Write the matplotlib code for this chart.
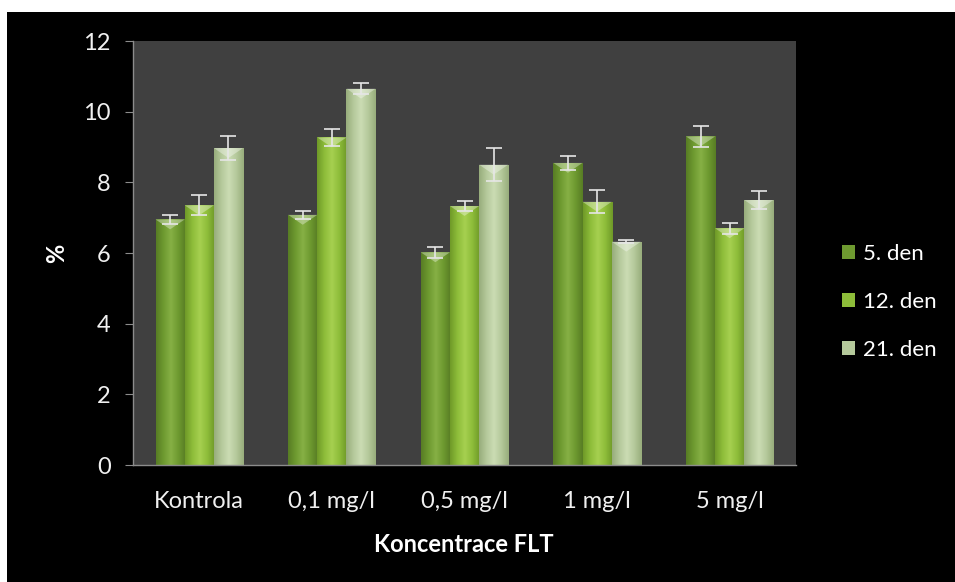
import matplotlib
matplotlib.use("Agg")
import matplotlib.pyplot as plt
import numpy as np
from matplotlib.colors import LinearSegmentedColormap
from matplotlib.patches import Rectangle, Polygon

categories = ["Kontrola", "0,1 mg/l", "0,5 mg/l", "1 mg/l", "5 mg/l"]
series_names = ["5. den", "12. den", "21. den"]
den5 = [6.95, 7.08, 6.02, 8.55, 9.30]
den5_err = [0.12, 0.12, 0.15, 0.20, 0.30]
den12 = [7.35, 9.27, 7.33, 7.45, 6.70]
den12_err = [0.28, 0.25, 0.15, 0.32, 0.15]
den21 = [8.97, 10.65, 8.50, 6.32, 7.50]
den21_err = [0.33, 0.15, 0.47, 0.05, 0.25]
y_ticks = [0, 2, 4, 6, 8, 10, 12]

values = [den5, den12, den21]
errors = [den5_err, den12_err, den21_err]
# (edge dark, base, center light)
palettes = [("#587d24", "#6e9a30", "#86b045"),
            ("#6f9a28", "#8ebd3a", "#a6d050"),
            ("#98ad7c", "#b5c99b", "#cbdcb4")]

plt.rcParams['font.family'] = ['Lato', 'DejaVu Sans']

fig = plt.figure(figsize=(9.55, 5.82), dpi=100, facecolor="white")
fig.patches.append(Rectangle((7 / 955, 0), 1 - 7 / 955, 1 - 12 / 582,
                             transform=fig.transFigure, facecolor="black",
                             edgecolor="none", zorder=-10))

ax = fig.add_axes([133 / 955, 1 - 465 / 582, 663 / 955, 424 / 582])
ax.set_zorder(1)
ax.set_facecolor("#404040")

x = np.arange(len(categories))
w = 0.22
offsets = [-w, 0, w]
handles = []
for i, (vals, errs, pal) in enumerate(zip(values, errors, palettes)):
    bars = ax.bar(x + offsets[i], vals, width=w, color=pal[1], zorder=2,
                  label=series_names[i], edgecolor="none")
    handles.append(bars)
    cmap = LinearSegmentedColormap.from_list("g", [pal[0], pal[1], pal[2], pal[1], pal[0]])
    grad = np.linspace(0, 1, 64).reshape(1, -1)
    for b in bars:
        bx, by = b.get_x(), b.get_y()
        bw, bh = b.get_width(), b.get_height()
        im = ax.imshow(grad, cmap=cmap, aspect="auto",
                       extent=(bx, bx + bw, by, by + bh), zorder=2.1,
                       interpolation="bilinear")
        im.set_clip_path(b)
        # top bevel highlight
        bev = 0.28
        tri = Polygon([(bx, by + bh), (bx + bw, by + bh),
                       (bx + bw * 0.5, by + bh - bev)],
                      closed=True, facecolor="white", alpha=0.35,
                      edgecolor="none", zorder=2.2)
        ax.add_patch(tri)
    ax.errorbar(x + offsets[i], vals, yerr=errs, fmt="none",
                ecolor="#e6e6e6", elinewidth=1.2, capsize=6, capthick=1.2,
                zorder=3)

ax.set_xlim(-0.5, len(categories) - 0.5)
ax.set_ylim(0, 12)
ax.set_yticks(y_ticks)
ax.set_yticklabels([str(t) for t in y_ticks])
ax.set_xticks(x)
ax.set_xticklabels(categories)

for s in ["top", "right"]:
    ax.spines[s].set_visible(False)
for s in ["left", "bottom"]:
    ax.spines[s].set_color("#8c8c8c")
    ax.spines[s].set_linewidth(1.0)

ax.tick_params(axis="y", colors="#8c8c8c", labelcolor="#f0f0f0",
               labelsize=17, length=6, direction="out", pad=10)
ax.tick_params(axis="x", length=0, labelcolor="#f0f0f0", labelsize=17, pad=19)

fig.text(57 / 955, 1 - 253 / 582, "%", rotation=90, color="white",
         fontsize=17, fontweight="bold", ha="center", va="center")
fig.text(464 / 955, 1 - 545 / 582, "Koncentrace FLT", color="white",
         fontsize=17, fontweight="bold", ha="center", va="center")

leg = fig.legend(handles=handles, labels=series_names, loc="center left",
                 bbox_to_anchor=(822 / 955, 1 - 302 / 582), frameon=False,
                 fontsize=16, labelcolor="white", handlelength=0.6,
                 handleheight=0.6, handletextpad=0.35, labelspacing=1.25)

fig.savefig("out.png", dpi=100, facecolor=fig.get_facecolor())
